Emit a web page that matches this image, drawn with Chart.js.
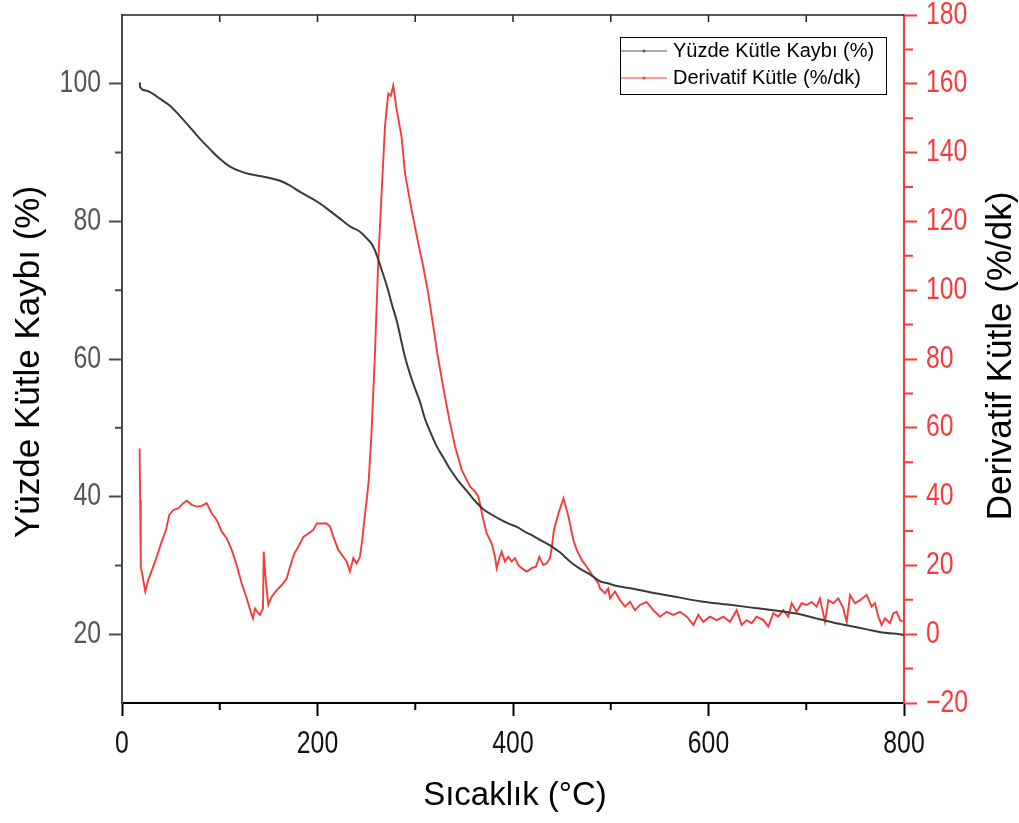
<!DOCTYPE html>
<html>
<head>
<meta charset="utf-8">
<script src="https://cdn.jsdelivr.net/npm/chart.js@4.4.0/dist/chart.umd.min.js"></script>
<style>
  html, body { margin: 0; padding: 0; background: #fff; }
  #wrap { width: 1019px; height: 823px; }
</style>
</head>
<body>
<div id="wrap"><canvas id="chart" width="1019" height="823"></canvas></div>
<script>
// TGA curve (°C, %)
const tgaTemp = [18.2, 18.6, 25, 39, 50, 59.3, 70, 79.8, 90, 100, 110, 120.7, 130, 141, 151, 161.6, 172, 182, 192, 202.6, 213, 223, 233, 243.5, 250.6, 256, 260.9, 266, 271, 276, 281.3, 289.5, 297, 305, 310, 316, 322, 329, 335.5, 344, 352.9, 361, 369.3, 378, 386.7, 395, 404, 412, 420.5, 429, 437.9, 443, 448, 455, 461.4, 470, 478.8, 489, 497, 506.4, 522.8, 540.2, 560, 591.3, 620, 642.5, 670, 693.6, 710, 727.4, 745, 762, 780, 795.9, 800]
const tgaMass = [100.2, 99.5, 99.0, 97.8, 96.7, 95.3, 93.6, 92.0, 90.5, 89.1, 88.0, 87.3, 86.9, 86.6, 86.3, 85.9, 85.2, 84.3, 83.5, 82.6, 81.5, 80.4, 79.3, 78.5, 77.5, 76.6, 75.0, 72.8, 70.6, 68.0, 65.4, 60.3, 56.8, 53.7, 51.3, 49.2, 47.3, 45.6, 44.0, 42.3, 40.8, 39.4, 38.2, 37.4, 36.7, 36.1, 35.6, 34.9, 34.3, 33.6, 32.9, 32.4, 31.9, 31.0, 30.2, 29.4, 28.7, 27.7, 27.4, 27.0, 26.6, 26.1, 25.6, 24.8, 24.3, 23.9, 23.4, 22.9, 22.3, 21.7, 21.2, 20.7, 20.2, 20.0, 19.9]

// DTG curve (°C, %/dk)
const dtgTemp = [18.0, 18.6, 19.0, 19.4, 21.2, 23.8, 26.9, 31.4, 35.5, 40.6, 45, 48.4, 52.5, 57.6, 62.7, 66.2, 71.3, 76.4, 81.5, 86.6, 91.8, 96.9, 102, 107.1, 112.2, 117.3, 122.4, 127.6, 131.7, 134, 136.1, 139.4, 141.2, 144.2, 145.0, 146.0, 147, 149.7, 153.1, 158.3, 163.4, 168.5, 171.9, 176.3, 180.4, 185.5, 190.6, 195.7, 199.2, 204.3, 209.4, 212.8, 216.2, 221.3, 226.4, 229.9, 233.2, 236.6, 240.1, 243.4, 245.8, 247.9, 250.3, 252.5, 255.4, 258.8, 262.2, 265.6, 269, 272.4, 275, 277.5, 281, 286, 289.5, 296.3, 303.1, 308.2, 313.3, 318.5, 322.5, 328.5, 334.9, 340.8, 347.6, 356.1, 361, 364.6, 369.7, 373.1, 378.2, 381.6, 383.3, 386, 388.4, 391.8, 395.2, 398.7, 402, 405.4, 408.9, 414, 419.1, 423.5, 426.9, 431, 434.5, 437.8, 439.6, 441.9, 446.5, 451.6, 456.7, 461.7, 465.2, 470.3, 475.4, 482.2, 487.3, 489, 492.4, 494.1, 497.5, 499.2, 504.3, 509.5, 514.6, 519.7, 524.8, 529.9, 536.7, 543.5, 550.4, 557.2, 564, 570.9, 577.7, 584.5, 589.6, 594.7, 601.5, 608.4, 615.1, 622, 628.8, 633.9, 639, 644.2, 649.3, 656.1, 661.2, 666.3, 671.4, 676.5, 681.6, 685.1, 690.2, 695.3, 700.4, 705.5, 710.6, 714, 719.2, 722.6, 727.7, 732.8, 737.9, 741.4, 744.8, 749.9, 755, 761.8, 766.9, 770.3, 773.7, 777.1, 780.6, 785.7, 789.1, 792.5, 795.9, 798.7]
const dtgRate = [54, 39, 22, 19.6, 16.7, 12.4, 15.8, 19.2, 22.5, 26.9, 30.3, 34.7, 36.1, 36.6, 38.1, 38.8, 37.6, 37.1, 37.3, 38.1, 35.1, 33.2, 29.8, 27.9, 24.5, 20.1, 14.8, 10.4, 6.5, 4.6, 7.5, 6.1, 5.6, 7.5, 24.0, 20, 15.8, 8.5, 10.9, 12.8, 14.3, 16.2, 19.6, 23.5, 25.4, 28.3, 29.3, 30.3, 32.2, 32.2, 32.2, 31.3, 28.3, 24.5, 22.5, 21.1, 18.2, 22.1, 20.6, 22.5, 27.4, 33.2, 39.0, 45, 59.4, 81.7, 108.8, 128.2, 147.5, 157.2, 156.5, 159.5, 152.4, 144.6, 134, 123.3, 113.6, 106.8, 99.1, 89.4, 81.7, 72, 62.3, 54.5, 47.7, 42.9, 41.5, 40.0, 33.2, 29.3, 26.4, 22.5, 19.2, 22.1, 24.0, 21.1, 22.5, 21.1, 22.1, 20.1, 19.2, 18.2, 19.2, 19.6, 22.5, 20.1, 20.6, 22.1, 25.0, 30.3, 35.1, 39.5, 34.2, 27.4, 24.5, 21.6, 19.6, 16.7, 14.8, 13.3, 12.4, 11.9, 13.3, 10.4, 12.4, 9.9, 8.0, 9.4, 7.0, 8.5, 9.4, 7.0, 5.1, 6.5, 5.6, 6.5, 5.1, 2.7, 5.6, 3.6, 5.1, 4.1, 5.1, 3.6, 7.0, 2.7, 4.1, 3.2, 5.1, 4.1, 2.2, 6.1, 5.1, 7.0, 5.1, 9.0, 6.5, 9.0, 8.5, 9.4, 8.0, 10.4, 3.6, 9.9, 9.0, 10.4, 7.5, 3.6, 11.4, 9.0, 9.9, 11.4, 8.0, 9.0, 5.1, 2.7, 4.6, 3.2, 6.1, 6.5, 4.1, 3.6]

const xTicks = [0, 200, 400, 600, 800]
const leftTicks = [20, 40, 60, 80, 100]
const rightTicks = [-20, 0, 20, 40, 60, 80, 100, 120, 140, 160, 180]

const seriesNames = ['Yüzde Kütle Kaybı (%)', 'Derivatif Kütle (%/dk)']
const RED = '#f53b3b'
const LEFT_GRAY = '#4a4a4a'

function narrowText(ctx, txt, x, y, align, size, color) {
    ctx.save()
    ctx.font = size + 'px "Liberation Sans", Arial, sans-serif'
    ctx.fillStyle = color
    ctx.textBaseline = 'middle'
    ctx.textAlign = align
    ctx.translate(x, y)
    ctx.scale(0.8, 1)
    ctx.fillText(txt, 0, 0)
    ctx.restore()
}

function vertTitle(ctx, txt, x, y, size) {
    ctx.save()
    ctx.font = size + 'px "Liberation Sans", Arial, sans-serif'
    ctx.fillStyle = '#000'
    ctx.textAlign = 'center'
    ctx.textBaseline = 'middle'
    ctx.translate(x, y)
    ctx.rotate(-Math.PI / 2)
    ctx.fillText(txt, 0, 0)
    ctx.restore()
}

const decor = {
    id: 'decor',
    afterDraw(chart) {
        const { ctx, chartArea: a, scales } = chart
        const sx = scales.x, sl = scales.y, sr = scales.y1

        // minor ticks
        ctx.save()
        ctx.lineWidth = 2
        ctx.strokeStyle = '#000'
        ctx.beginPath()
        ;[100, 300, 500, 700].forEach(v => {
            const p = sx.getPixelForValue(v)
            ctx.moveTo(p, a.bottom); ctx.lineTo(p, a.bottom + 7)
        })
        ctx.stroke()
        ctx.strokeStyle = LEFT_GRAY
        ctx.beginPath()
        ;[30, 50, 70, 90].forEach(v => {
            const p = sl.getPixelForValue(v)
            ctx.moveTo(a.left, p); ctx.lineTo(a.left - 7, p)
        })
        ctx.stroke()
        ctx.strokeStyle = RED
        ctx.beginPath()
        ;[-10, 10, 30, 50, 70, 90, 110, 130, 150, 170].forEach(v => {
            const p = sr.getPixelForValue(v)
            ctx.moveTo(a.right, p); ctx.lineTo(a.right + 9, p)
        })
        ctx.stroke()

        // top frame with inward ticks
        ctx.strokeStyle = '#222'
        ctx.lineWidth = 1.5
        ctx.beginPath()
        ctx.moveTo(a.left, a.top); ctx.lineTo(a.right, a.top)
        for (let v = 100; v < 800; v += 100) {
            const p = sx.getPixelForValue(v)
            ctx.moveTo(p, a.top); ctx.lineTo(p, a.top + 7)
        }
        ctx.stroke()
        ctx.restore()

        // tick labels
        xTicks.forEach(v => narrowText(ctx, String(v), sx.getPixelForValue(v), 744, 'center', 31, '#111'))
        leftTicks.forEach(v => narrowText(ctx, String(v), 101, sl.getPixelForValue(v), 'right', 31, '#555'))
        rightTicks.forEach(v => narrowText(ctx, v < 0 ? '\u2212' + Math.abs(v) : String(v), 926, sr.getPixelForValue(v), 'left', 31, RED))

        // axis titles
        ctx.save()
        ctx.font = '33px "Liberation Sans", Arial, sans-serif'
        ctx.fillStyle = '#000'
        ctx.textAlign = 'center'
        ctx.textBaseline = 'middle'
        ctx.fillText('Sıcaklık (°C)', 515, 796)
        ctx.restore()
        vertTitle(ctx, seriesNames[0], 29, 362, 35)
        vertTitle(ctx, seriesNames[1], 1001, 356, 35)

        // legend
        ctx.save()
        ctx.strokeStyle = '#000'
        ctx.lineWidth = 1
        ctx.strokeRect(620.5, 37.5, 266, 57)
        const rows = [[51, '#555'], [78, RED]]
        rows.forEach(([y, c], i) => {
            ctx.strokeStyle = c
            ctx.lineWidth = 1.2
            ctx.beginPath(); ctx.moveTo(621, y); ctx.lineTo(667, y); ctx.stroke()
            ctx.fillStyle = c
            ctx.beginPath(); ctx.arc(644, y, 1.5, 0, Math.PI * 2); ctx.fill()
            ctx.font = '20px "Liberation Sans", Arial, sans-serif'
            ctx.fillStyle = '#000'
            ctx.textBaseline = 'middle'
            ctx.textAlign = 'left'
            ctx.fillText(seriesNames[i], 673, y)
        })
        ctx.restore()
    }
}

new Chart(document.getElementById('chart'), {
    type: 'line',
    data: {
        datasets: [
            {
                label: seriesNames[0],
                data: tgaTemp.map((t, i) => ({ x: t, y: tgaMass[i] })),
                yAxisID: 'y',
                borderColor: '#3a3a3a',
                borderWidth: 2,
                pointRadius: 0,
                cubicInterpolationMode: 'monotone',
            },
            {
                label: seriesNames[1],
                data: dtgTemp.map((t, i) => ({ x: t, y: dtgRate[i] })),
                yAxisID: 'y1',
                borderColor: RED,
                borderWidth: 1.9,
                pointRadius: 0,
                tension: 0,
            },
        ],
    },
    options: {
        responsive: false,
        animation: false,
        layout: { padding: { top: 15, left: 0, right: 0, bottom: 0 } },
        plugins: {
            legend: { display: false },
            tooltip: { enabled: false },
        },
        scales: {
            x: {
                type: 'linear',
                min: 0,
                max: 800,
                ticks: { display: false, stepSize: 200 },
                grid: { drawOnChartArea: false, tickLength: 13, tickColor: '#000', tickWidth: 2 },
                border: { color: '#000', width: 2 },
                afterFit: s => { s.height = 120 },
            },
            y: {
                position: 'left',
                min: 10,
                max: 110,
                afterBuildTicks: s => { s.ticks = leftTicks.map(v => ({ value: v })) },
                ticks: { display: false },
                grid: { drawOnChartArea: false, tickLength: 13, tickColor: LEFT_GRAY, tickWidth: 2 },
                border: { color: LEFT_GRAY, width: 2 },
                afterFit: s => { s.width = 122 },
            },
            y1: {
                position: 'right',
                min: -20,
                max: 180,
                ticks: { display: false, stepSize: 20 },
                grid: { drawOnChartArea: false, tickLength: 13, tickColor: RED, tickWidth: 2 },
                border: { color: RED, width: 2 },
                afterFit: s => { s.width = 115 },
            },
        },
    },
    plugins: [decor],
})
</script>
</body>
</html>
